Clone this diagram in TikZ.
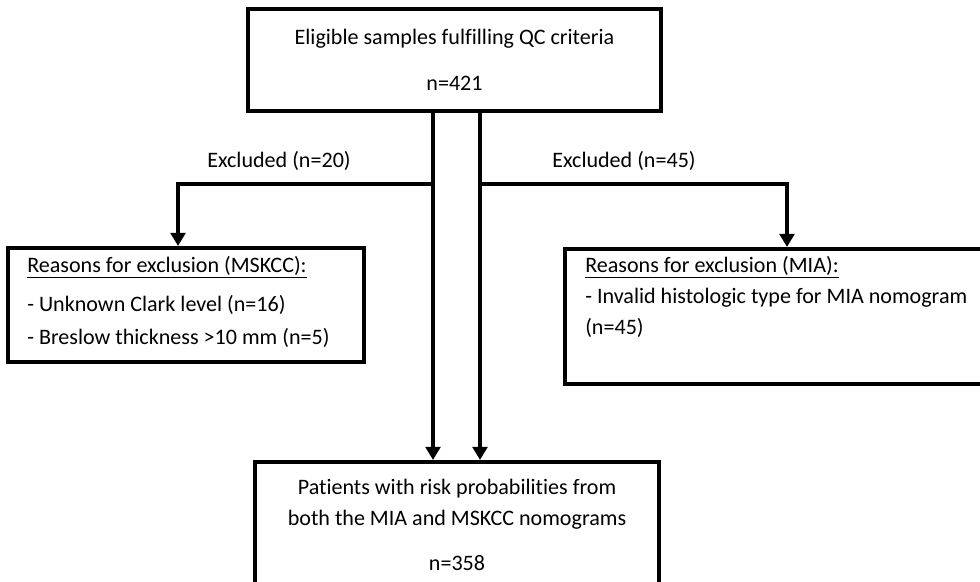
\documentclass[tikz,border=0pt]{standalone}
\usepackage{fontspec}
\setmainfont{Carlito}[Ligatures=NoCommon]
\usetikzlibrary{arrows.meta,positioning}

\begin{document}
\begin{tikzpicture}[x=0.025cm, y=-0.025cm,
    every node/.style={font=\fontsize{15.7}{22}\selectfont},
    box/.style={draw, line width=0.1cm, inner sep=0pt},
    reason/.style={align=left, inner sep=0pt, anchor=north west},
    flow/.style={line width=0.1cm, -{Triangle[width=0.37cm,length=0.33cm]}}]
    \useasboundingbox (0,0) rectangle (980,581);
    \clip (0,0) rectangle (980,581);

    % boxes
    \node[box, minimum width=10.325cm, minimum height=2.55cm, align=center] (eligible) at (454.5,60)
        {Eligible samples fulfilling QC criteria\\[10.6pt]n=421};
    \node[box, minimum width=8.9cm, minimum height=2.85cm] (mskcc) at (186,305) {};
    \node[reason] (mskcctxt) at (27,256)
        {\underline{Reasons for exclusion (MSKCC):}\\[6pt]- Unknown Clark level (n=16)\\[1pt]- Breslow thickness >10 mm (n=5)};
    \node[box, minimum width=11.25cm, minimum height=3.375cm] (mia) at (790,316.5) {};
    \node[reason] (miatxt) at (585,256)
        {\underline{Reasons for exclusion (MIA):}\\- Invalid histologic type for MIA nomogram\\(n=45)};
    \node[box, minimum width=10.1cm, minimum height=3.15cm, align=center] (patients) at (457,525)
        {Patients with risk probabilities from\\both the MIA and MSKCC nomograms\\[10pt]n=358};

    % branch labels
    \node (exclmskcc) at (279,161) {Excluded (n=20)};
    \node (exclmia) at (624,161) {Excluded (n=45)};

    % connectors
    \coordinate (xl) at (433,0);
    \coordinate (xr) at (480,0);
    \coordinate (splitl) at (433,184);
    \coordinate (splitr) at (480,184);
    \coordinate (xmskcc) at (178,0);
    \coordinate (xmia) at (787,0);
    \draw[flow] (eligible.south -| xl) -- (patients.north -| xl);
    \draw[flow] (eligible.south -| xr) -- (patients.north -| xr);
    \draw[flow] (splitl) -| (mskcc.north -| xmskcc);
    \draw[flow] (splitr) -| (mia.north -| xmia);
\end{tikzpicture}
\end{document}
